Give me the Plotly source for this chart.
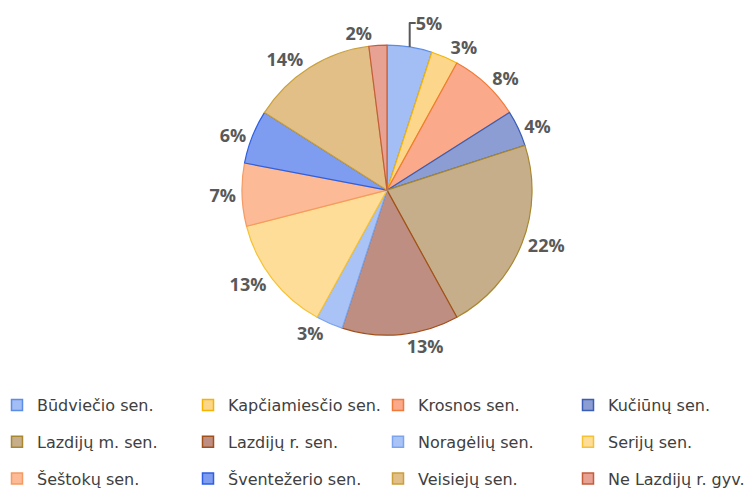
import plotly.graph_objects as go

labels = ["Būdviečio sen.", "Kapčiamiesčio sen.", "Krosnos sen.", "Kučiūnų sen.",
          "Lazdijų m. sen.", "Lazdijų r. sen.", "Noragėlių sen.", "Serijų sen.",
          "Šeštokų sen.", "Šventežerio sen.", "Veisiejų sen.", "Ne Lazdijų r. gyv."]
values = [5, 3, 8, 4, 22, 13, 3, 13, 7, 6, 14, 2]

fill_colors = ["#A3BDF5", "#FCD68A", "#FBA98B", "#8C9DD3", "#C6AE8B", "#BF8E82",
               "#AAC3F6", "#FDDD98", "#FCBA97", "#7F9DF0", "#E2BF87", "#E7A294"]
line_colors = ["#5B8DE8", "#F5B400", "#F07A38", "#3A5DB5", "#A8872E", "#A2501A",
               "#7AA5EE", "#F6C232", "#F59A62", "#2E5FE3", "#C9A03A", "#C45E3A"]

fig = go.Figure(go.Pie(
    labels=labels, values=values, sort=False, direction="clockwise", rotation=0,
    marker=dict(colors=fill_colors, line=dict(color=line_colors, width=1.2)),
    textinfo="percent", texttemplate="%{percent:.0%}", textposition="outside",
    textfont=dict(family="Open Sans", size=18, color="#595959", weight="bold"),
    domain=dict(x=[0.008, 1.0], y=[0.339, 0.925]),
    showlegend=False, hoverinfo="label+value+percent",
))

# legend entries: 4 columns (one legend each) x 3 rows
n_cols = 4
legend_names = ["legend", "legend2", "legend3", "legend4"]
for i, (lab, fc, lc) in enumerate(zip(labels, fill_colors, line_colors)):
    fig.add_trace(go.Scatter(
        x=[None], y=[None], mode="markers", name=lab,
        marker=dict(symbol="square", size=11, color=fc, line=dict(color=lc, width=1.5)),
        legend=legend_names[i % n_cols], legendgroup=f"g{i}",
        showlegend=True, hoverinfo="skip",
    ))

col_x = [-11, 180, 370, 560]
leg_common = dict(orientation="v", xanchor="left", yanchor="top",
                  traceorder="grouped", tracegroupgap=13,
                  itemwidth=30, bgcolor="rgba(0,0,0,0)",
                  font=dict(family="DejaVu Sans", size=16, color="#404040"))
legends = {}
for k, nm in enumerate(legend_names):
    legends[nm] = dict(x=col_x[k] / 752, y=1 - 380 / 495, **leg_common)

fig.update_layout(
    width=752, height=495, margin=dict(l=0, r=0, t=0, b=0, autoexpand=False),
    paper_bgcolor="white", plot_bgcolor="white",
    xaxis=dict(visible=False), yaxis=dict(visible=False),
    **legends,
)

fig.write_html("out.html")
